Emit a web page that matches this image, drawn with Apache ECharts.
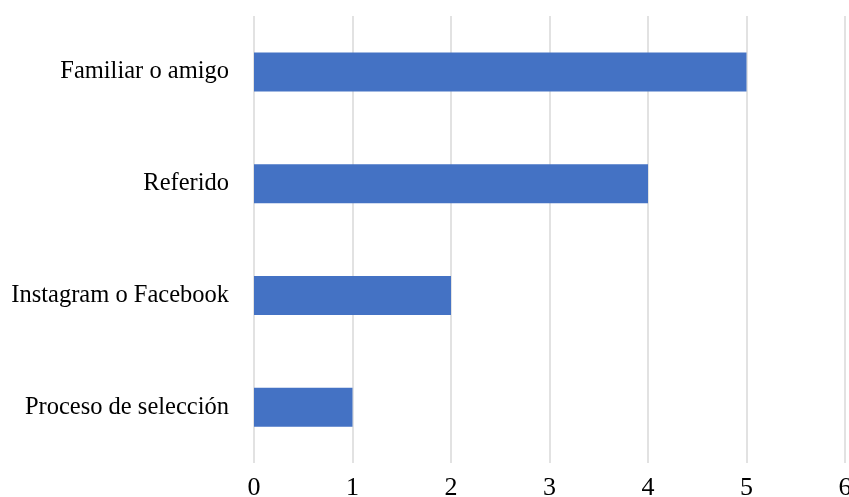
<!DOCTYPE html>
<html>
<head>
<meta charset="utf-8">
<script src="https://cdn.jsdelivr.net/npm/echarts@6/dist/echarts.min.js"></script>
<style>html,body{margin:0;padding:0;background:#fff;}#c{width:849px;height:497px;}</style>
</head>
<body>
<div id="c"></div>
<script>
const categories = ["Proceso de selección", "Instagram o Facebook", "Referido", "Familiar o amigo"];
const values = [1, 2, 4, 5];
const xTicks = [0, 1, 2, 3, 4, 5, 6];

const chart = echarts.init(document.getElementById('c'), null, {renderer: 'canvas'});
const font = '"Liberation Serif", "DejaVu Serif", serif';
chart.setOption({
  animation: false,
  backgroundColor: '#ffffff',
  grid: {left: 254, right: 4, top: 16, bottom: 34, containLabel: false, outerBoundsMode: 'none'},
  xAxis: {
    type: 'value', min: xTicks[0], max: xTicks[xTicks.length - 1], interval: 1,
    axisLine: {show: false}, axisTick: {show: false},
    splitLine: {show: true, lineStyle: {color: '#d9d9d9', width: 1.5}},
    axisLabel: {color: '#000', fontFamily: font, fontSize: 26, margin: 12}
  },
  yAxis: {
    type: 'category', data: categories,
    axisLine: {show: false}, axisTick: {show: false},
    axisLabel: {color: '#000', fontFamily: font, fontSize: 24.5, margin: 25}
  },
  series: [{
    type: 'bar', data: values, barWidth: 39,
    itemStyle: {color: '#4472C4'}
  }]
});
</script>
</body>
</html>
